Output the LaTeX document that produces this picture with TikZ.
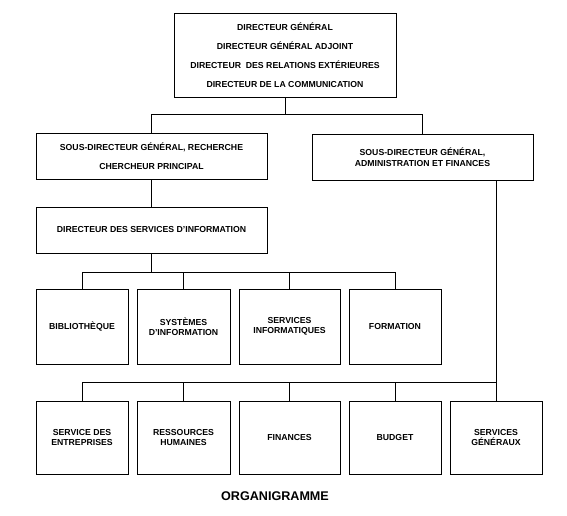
\documentclass[tikz,border=0pt]{standalone}
\usepackage{fontspec}
\setmainfont{Liberation Sans}

\tikzset{
    box/.style={draw, line width=1pt, inner sep=0pt, align=center,
        font=\fontsize{8.7}{10.5}\selectfont\bfseries},
    wide/.style={font=\fontsize{8.7}{19}\selectfont\bfseries},
}

\begin{document}
\begin{tikzpicture}[x=1pt, y=-1pt, line width=1pt]
    \useasboundingbox (0, 0) rectangle (567, 515);

    \node [box, wide, minimum width=222pt, minimum height=84pt] (top) at (285, 55)
        {DIRECTEUR GÉNÉRAL\\DIRECTEUR GÉNÉRAL ADJOINT\\DIRECTEUR\ \ DES RELATIONS EXTÉRIEURES\\DIRECTEUR DE LA COMMUNICATION};
    \node [box, wide, minimum width=231pt, minimum height=46pt] (rech) at (151.5, 156)
        {SOUS-DIRECTEUR GÉNÉRAL, RECHERCHE\\CHERCHEUR PRINCIPAL};
    \node [box, minimum width=221pt, minimum height=46pt] (admin) at (422.5, 157)
        {SOUS-DIRECTEUR GÉNÉRAL,\\ADMINISTRATION ET FINANCES};
    \node [box, minimum width=231pt, minimum height=46pt] (dsi) at (151.5, 230)
        {\raisebox{2pt}{DIRECTEUR DES SERVICES D'INFORMATION}};

    % services d'information
    \node [box, minimum width=92pt, minimum height=75pt]  (bib)  at (82, 326.5)    {BIBLIOTHÈQUE};
    \node [box, minimum width=93pt, minimum height=75pt]  (sys)  at (183.5, 326.5) {SYSTÈMES\\D'INFORMATION};
    \node [box, minimum width=101pt, minimum height=75pt] (info) at (289.5, 326.5) {SERVICES\\INFORMATIQUES};
    \node [box, minimum width=92pt, minimum height=75pt]  (form) at (395, 326.5)   {FORMATION};

    % administration et finances
    \node [box, minimum width=92pt, minimum height=73pt]  (entr) at (82, 437.5)    {SERVICE DES\\ENTREPRISES};
    \node [box, minimum width=93pt, minimum height=73pt]  (rh)   at (183.5, 437.5) {RESSOURCES\\HUMAINES};
    \node [box, minimum width=101pt, minimum height=73pt] (fin)  at (289.5, 437.5) {FINANCES};
    \node [box, minimum width=92pt, minimum height=73pt]  (budg) at (395, 437.5)   {BUDGET};
    \node [box, minimum width=92pt, minimum height=73pt]  (gen)  at (496, 437.5)   {SERVICES\\GÉNÉRAUX};

    \node [font=\fontsize{12.6}{14}\selectfont\bfseries] (title) at (275, 496) {ORGANIGRAMME};

    \coordinate (jA) at (0, 114);
    \coordinate (jB) at (0, 272);
    \coordinate (jC) at (0, 382);

    \draw (top.south) -- (top.south |- jA);
    \draw (rech.north) -- (rech.north |- jA) -- (admin.north |- jA) -- (admin.north);
    \draw (rech.south) -- (dsi.north);

    \draw (dsi.south) -- (dsi.south |- jB);
    \draw (bib.north |- jB) -- (form.north |- jB);
    \foreach \n in {bib, sys, info, form} {
        \draw (\n.north) -- (\n.north |- jB);
        }

    \draw (admin.south -| gen.north) -- (gen.north);
    \draw (entr.north |- jC) -- (gen.north |- jC);
    \foreach \n in {entr, rh, fin, budg} {
        \draw (\n.north) -- (\n.north |- jC);
        }
\end{tikzpicture}
\end{document}
